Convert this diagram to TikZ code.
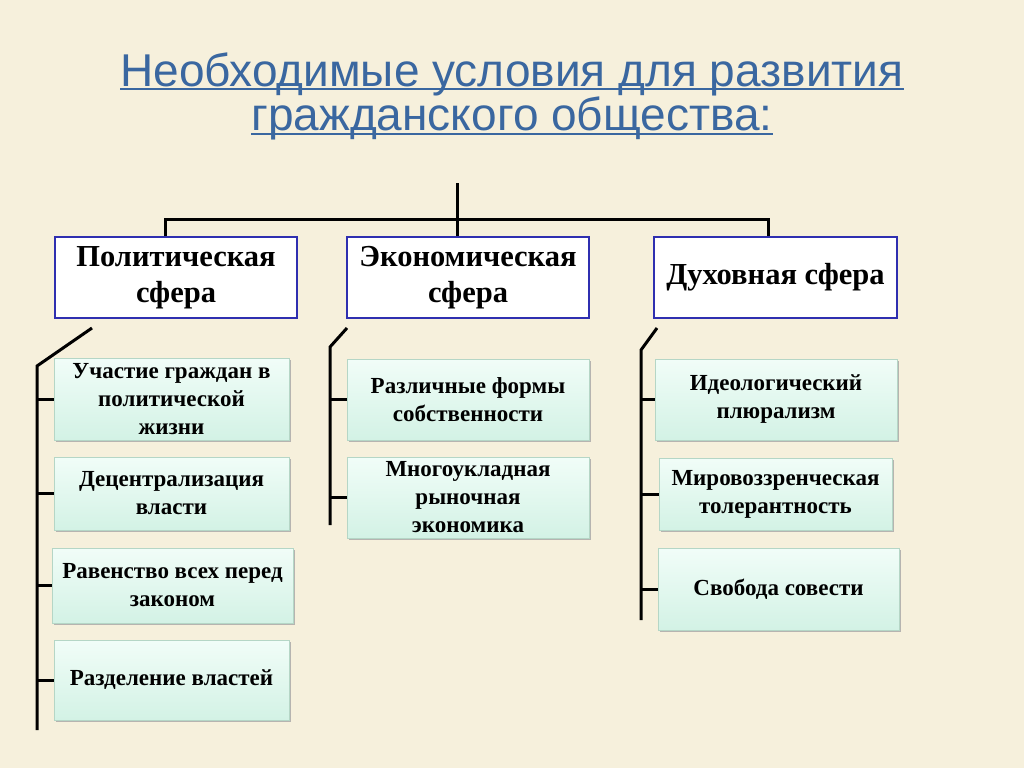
\documentclass[tikz,border=0pt]{standalone}
\usepackage{fontspec}
\setmainfont{Liberation Serif}
\newfontfamily\titlefont{Liberation Sans}
\usepackage{xcolor}
\usepackage{tikz}
\usetikzlibrary{shadows}
\definecolor{paper}{HTML}{F6F0DC}
\definecolor{titleblue}{HTML}{3A67A0}
\definecolor{frameblue}{HTML}{2F2FB0}
\definecolor{mintA}{HTML}{F1FDF8}
\definecolor{mintB}{HTML}{D3F2E5}
\definecolor{mintline}{HTML}{B5D6C6}
\tikzset{sphere/.style={draw=frameblue,line width=2.5pt,fill=white,align=center,
    inner sep=0pt,font=\bfseries\fontsize{30.5}{36}\selectfont},
  cond/.style={draw=mintline,line width=0.8pt,top color=mintA,bottom color=mintB,
    align=center,inner sep=0pt,font=\bfseries\fontsize{23}{28}\selectfont,
    drop shadow={shadow xshift=2pt,shadow yshift=-2pt,fill=black!35,opacity=0.8}},
  tree/.style={line width=3pt,black}}
\newcommand{\titleline}[1]{\setbox0\hbox{#1}\rlap{\rule[-4pt]{\wd0}{2pt}}\box0}

\begin{document}
\begin{tikzpicture}[x=1pt,y=-1pt]
  \useasboundingbox[fill=paper] (0,0) rectangle (1024,768);
  \node[text=titleblue,align=center,font=\titlefont\fontsize{46}{42}\selectfont] (T) at (512,96.5)
    {\titleline{Необходимые условия для развития}\\\titleline{гражданского общества:}};
  % spheres
  \node[sphere,minimum width=242,minimum height=81] (P) at (176,277.5) {Политическая\\сфера};
  \node[sphere,minimum width=242,minimum height=81] (E) at (468,277.5) {Экономическая\\сфера};
  \node[sphere,minimum width=243,minimum height=81] (D) at (775.5,277.5) {Духовная сфера};
  % conditions
  \node[cond,minimum width=235,minimum height=82] (P1) at (171.5,399) {Участие граждан в\\политической\\жизни};
  \node[cond,minimum width=235,minimum height=73] (P2) at (171.5,493.5) {Децентрализация\\власти};
  \node[cond,minimum width=241,minimum height=75] (P3) at (172.5,585.5) {Равенство всех перед\\законом};
  \node[cond,minimum width=235,minimum height=80] (P4) at (171.5,680) {Разделение властей};
  \node[cond,minimum width=242,minimum height=81] (E1) at (468,399.5) {Различные формы\\собственности};
  \node[cond,minimum width=242,minimum height=81] (E2) at (468,497.5) {Многоукладная\\рыночная\\экономика};
  \node[cond,minimum width=242,minimum height=81] (D1) at (776,399.5) {Идеологический\\плюрализм};
  \node[cond,minimum width=233,minimum height=72] (D2) at (775.5,494) {Мировоззренческая\\толерантность};
  \node[cond,minimum width=241,minimum height=82] (D3) at (778.5,589) {Свобода совести};
  % top fork
  \coordinate (top) at (457,183);
  \coordinate (hl) at (165,219);
  \coordinate (hr) at (768,219);
  \draw[tree] (top) -- (top |- E.north);
  \draw[tree] (hl |- P.north) -- (hl) -- (hr) -- (hr |- D.north);
  % brackets
  \coordinate (p0) at (92,328);  \coordinate (p1) at (37,366);  \coordinate (p2) at (37,730);
  \coordinate (e0) at (347,328); \coordinate (e1) at (330,347); \coordinate (e2) at (330,525);
  \coordinate (d0) at (657,328); \coordinate (d1) at (641,350); \coordinate (d2) at (641,620);
  \draw[tree] (p0) -- (p1) -- (p2);
  \draw[tree] (e0) -- (e1) -- (e2);
  \draw[tree] (d0) -- (d1) -- (d2);
  \foreach \n in {P1,P2,P3,P4} \draw[tree] (p1 |- \n) -- (\n.west);
  \foreach \n in {E1,E2} \draw[tree] (e1 |- \n) -- (\n.west);
  \foreach \n in {D1,D2,D3} \draw[tree] (d1 |- \n) -- (\n.west);
\end{tikzpicture}
\end{document}
